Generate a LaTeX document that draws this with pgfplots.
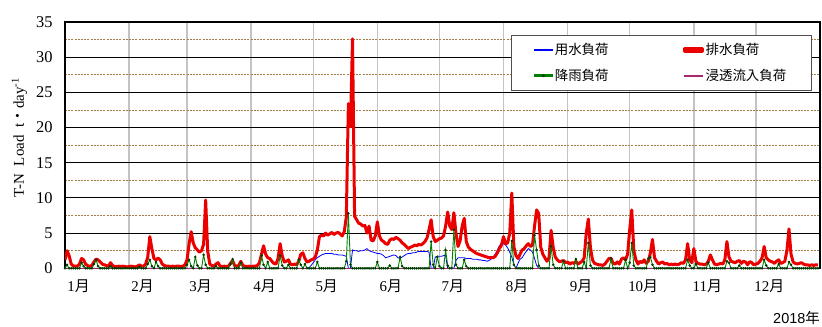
\documentclass[border=0pt]{standalone}
\usepackage{fontspec}
\setmainfont{Liberation Serif}
\newfontfamily\cjk{Noto Sans CJK JP}
\newfontfamily\arial{Liberation Sans}
\usepackage{pgfplots}
\usepackage{pgfplotstable}
\pgfplotsset{compat=1.18}
\definecolor{cred}{RGB}{235,0,0}
\definecolor{cblue}{RGB}{0,0,255}
\definecolor{cgreen}{RGB}{0,128,0}
\definecolor{cgmark}{RGB}{0,60,0}
\definecolor{cpurple}{RGB}{170,40,110}
\definecolor{cbrown}{RGB}{165,125,70}
\definecolor{cgrid}{RGB}{195,195,195}
\definecolor{clegbox}{RGB}{80,80,80}
\newcommand\M[1]{#1{\cjk 月}}

\pgfplotstableread[row sep=\\]{
d r g\\
0 1.2 0\\ 1 2.5 0.5\\ 2 1.8 0\\ 3 0.6 0\\ 4 0.35 0\\ 5 0.3 0\\ 6 0.3 0\\ 7 0.6 0\\ 8 1.4 0.8\\ 9 1.2 0.3\\
10 0.6 0\\ 11 0.35 0\\ 12 0.3 0\\ 13 0.4 0\\ 14 0.9 0.6\\ 15 1.3 1.2\\ 16 1.2 0.3\\ 17 0.9 0\\ 18 0.6 0\\ 19 0.5 0\\
20 0.4 0\\ 21 0.3 0\\ 22 0.8 0.3\\ 23 0.4 0\\ 24 0.25 0\\ 25 0.25 0\\ 26 0.3 0\\ 27 0.25 0\\ 28 0.3 0\\ 29 0.25 0\\
30 0.2 0\\ 31 0.25 0\\ 32 0.3 0\\ 33 0.25 0\\ 34 0.2 0\\ 35 0.3 0\\ 36 0.5 0.2\\ 37 0.3 0\\ 38 0.3 0\\ 39 0.6 0\\
40 1.6 0.6\\ 41 4.5 1.2\\ 42 2.8 0.3\\ 43 1.4 0\\ 44 1.2 0.9\\ 45 1.45 0.3\\ 46 1.2 0\\ 47 0.6 0\\ 48 0.4 0\\ 49 0.3 0\\
50 0.3 0\\ 51 0.25 0\\ 52 0.3 0\\ 53 0.25 0\\ 54 0.3 0\\ 55 0.3 0\\ 56 0.25 0\\ 57 0.3 0\\ 58 0.5 0\\ 59 1.2 0.5\\
60 3.5 1.2\\ 61 5.2 0.3\\ 62 3.6 0\\ 63 2.9 1.6\\ 64 2.6 0.4\\ 65 2.3 0\\ 66 2.5 0\\ 67 3.4 1.9\\ 68 9.7 0.5\\ 69 2.4 0\\
70 0.6 0\\ 71 0.4 0\\ 72 0.3 0\\ 73 0.6 0.3\\ 74 0.8 0\\ 75 0.3 0\\ 76 0.25 0\\ 77 0.3 0\\ 78 0.25 0\\ 79 0.3 0\\
80 0.7 0.6\\ 81 1.1 1.3\\ 82 0.4 0\\ 83 0.3 0\\ 84 0.4 0\\ 85 1.0 0.8\\ 86 0.4 0\\ 87 0.3 0\\ 88 0.25 0\\ 89 0.3 0\\
90 0.25 0\\ 91 0.3 0\\ 92 0.3 0\\ 93 0.4 0\\ 94 0.8 0\\ 95 2.0 1.8\\ 96 3.2 0.5\\ 97 2.0 0\\ 98 1.5 0.9\\ 99 1.4 0\\
100 1.0 0\\ 101 0.7 0\\ 102 0.6 0\\ 103 1.4 0\\ 104 3.5 1.8\\ 105 1.8 0.4\\ 106 0.9 0\\ 107 1.0 0\\ 108 1.2 0.5\\ 109 0.6 0\\
110 0.5 0\\ 111 0.6 0\\ 112 0.5 0\\ 113 1.0 1.2\\ 114 2.0 0.5\\ 115 2.2 0\\ 116 1.4 0.6\\ 117 0.9 0\\ 118 1.0 0\\ 119 1.2 0\\
120 1.3 0\\ 121 1.6 0\\ 122 2.6 0.9\\ 123 4.5 0\\ 124 4.7 0\\ 125 4.6 0\\ 126 5.0 0\\ 127 4.7 0\\ 128 4.9 0\\ 129 5.1 0\\
130 4.8 0\\ 131 5.0 0\\ 132 5.1 0\\ 133 4.9 0\\ 134 4.6 0\\ 135 5.2 0\\ 136 7.3 1.0\\ 137 23.4 7.8\\ 138 20.1 0.5\\ 139 32.6 0\\
140 7.4 0\\ 141 6.9 0\\ 142 6.4 0\\ 143 6.3 0\\ 144 6.0 0\\ 145 6.1 0\\ 146 5.0 0\\ 147 6.0 0\\ 148 4.0 0\\ 149 3.9 0\\
150 4.6 0\\ 151 6.6 0.9\\ 152 4.6 0\\ 153 4.0 0\\ 154 3.8 0\\ 155 3.5 0\\ 156 3.4 0\\ 157 4.0 0.4\\ 158 4.2 0\\ 159 4.1 0\\
160 4.4 0\\ 161 4.2 0\\ 162 4.0 1.6\\ 163 3.6 0.3\\ 164 3.4 0\\ 165 3.1 0\\ 166 2.8 0\\ 167 3.0 0\\ 168 3.1 0\\ 169 3.3 0\\
170 3.2 0\\ 171 3.4 0\\ 172 3.3 0\\ 173 3.5 0\\ 174 3.8 0\\ 175 4.3 0\\ 176 5.5 0\\ 177 6.9 3.8\\ 178 4.5 0.5\\ 179 3.8 0\\
180 4.0 1.6\\ 181 4.2 0.3\\ 182 4.3 0\\ 183 4.6 0\\ 184 6.0 2.6\\ 185 8.0 0.4\\ 186 6.0 0\\ 187 5.5 0\\ 188 7.9 5.5\\ 189 5.0 0.5\\
190 3.1 0\\ 191 3.9 0\\ 192 6.0 0\\ 193 7.1 1.2\\ 194 3.8 0.3\\ 195 3.0 0\\ 196 2.7 0\\ 197 2.5 0\\ 198 2.3 0\\ 199 2.1 0\\
200 2.0 0\\ 201 1.9 0\\ 202 1.8 0\\ 203 1.7 0\\ 204 1.6 0\\ 205 1.5 0\\ 206 1.5 0\\ 207 1.5 0\\ 208 1.7 0\\ 209 2.2 0\\
210 2.8 0\\ 211 3.3 0\\ 212 4.5 0\\ 213 3.5 0\\ 214 3.6 0\\ 215 5.0 0\\ 216 10.7 3.9\\ 217 3.1 0.5\\ 218 1.8 0\\ 219 1.4 0\\
220 2.0 0\\ 221 2.6 0\\ 222 2.8 0\\ 223 3.2 0\\ 224 3.5 0\\ 225 3.1 0\\ 226 3.3 0\\ 227 6.0 4.7\\ 228 8.3 2.6\\ 229 7.8 0.4\\
230 3.0 0\\ 231 2.0 0\\ 232 1.5 0\\ 233 1.0 0\\ 234 1.5 0\\ 235 5.4 3.1\\ 236 3.0 0.5\\ 237 1.6 0\\ 238 1.2 0\\ 239 0.95 0\\
240 1.0 0\\ 241 1.1 1.0\\ 242 0.8 0\\ 243 0.9 0\\ 244 0.6 0\\ 245 0.8 0\\ 246 0.7 0\\ 247 1.0 1.3\\ 248 0.6 0\\ 249 0.8 0\\
250 1.0 0\\ 251 1.5 0.9\\ 252 5.0 0\\ 253 7.0 3.6\\ 254 3.0 0.4\\ 255 1.2 0\\ 256 0.7 0\\ 257 0.6 0\\ 258 0.5 0\\ 259 0.5 0\\
260 0.4 0\\ 261 0.6 0\\ 262 1.0 0\\ 263 1.4 0\\ 264 1.4 1.4\\ 265 0.7 0\\ 266 0.6 0\\ 267 0.9 0\\ 268 0.6 0\\ 269 1.3 0\\
270 1.5 0\\ 271 1.2 1.2\\ 272 2.0 0\\ 273 5.5 0.8\\ 274 8.3 3.6\\ 275 2.5 0.4\\ 276 1.2 0\\ 277 0.6 0\\ 278 1.0 0\\ 279 0.8 0\\
280 1.2 0\\ 281 0.7 0\\ 282 1.0 1.4\\ 283 2.2 1.6\\ 284 4.1 0.5\\ 285 1.5 0\\ 286 1.0 0\\ 287 0.6 0\\ 288 0.8 0\\ 289 0.9 0\\
290 0.6 0\\ 291 0.7 0\\ 292 0.5 0\\ 293 0.6 0\\ 294 0.5 0\\ 295 0.6 0\\ 296 0.5 0\\ 297 0.6 0\\ 298 0.8 0\\ 299 0.7 0\\
300 1.2 0\\ 301 3.5 1.2\\ 302 1.2 0.4\\ 303 0.8 0\\ 304 2.8 0\\ 305 1.0 0.6\\ 306 0.7 0\\ 307 0.6 0\\ 308 0.6 0\\ 309 0.5 0\\
310 0.6 0\\ 311 1.0 0.8\\ 312 1.9 0\\ 313 1.2 0\\ 314 0.6 0\\ 315 0.5 0\\ 316 0.6 0\\ 317 0.7 0\\ 318 0.6 0\\ 319 1.2 0\\
320 3.8 1.0\\ 321 1.6 0.8\\ 322 1.0 0\\ 323 0.9 0\\ 324 0.8 0\\ 325 1.0 0\\ 326 1.1 0.4\\ 327 0.7 0\\ 328 1.0 0\\ 329 0.9 0\\
330 0.5 0\\ 331 0.95 0\\ 332 0.8 0\\ 333 0.5 0\\ 334 0.6 0\\ 335 0.7 0\\ 336 1.0 0\\ 337 1.5 0\\ 338 3.1 1.2\\ 339 1.5 0.4\\
340 1.2 0\\ 341 1.0 0\\ 342 0.9 0\\ 343 0.7 0\\ 344 1.0 0\\ 345 1.2 0.6\\ 346 0.7 0\\ 347 0.8 0\\ 348 1.0 0\\ 349 2.5 0\\
350 5.6 0.9\\ 351 2.0 0.5\\ 352 0.9 0\\ 353 0.7 0\\ 354 0.6 0\\ 355 0.7 0\\ 356 0.8 0\\ 357 0.6 0\\ 358 0.5 0\\ 359 0.5 0\\
360 0.4 0\\ 361 0.5 0\\ 362 0.4 0\\ 363 0.5 0\\ 364 0.5 0\\
}\tblrg

\begin{document}
\begin{tikzpicture}
\begin{axis}[
  at={(0,0)}, anchor=south west,
  scale only axis, width=755bp, height=246.3bp,
  xmin=0, xmax=365, ymin=0, ymax=35,
  xtick={0,31,59,90,120,151,181,212,243,273,304,334},
  xticklabels={\M{1},\M{2},\M{3},\M{4},\M{5},\M{6},\M{7},\M{8},\M{9},\M{10},\M{11},\M{12}},
  xticklabel style={xshift=13.5bp, yshift=-8bp, font=\fontsize{15}{17}\selectfont},
  ytick={0,5,...,35},
  minor ytick={2.5,7.5,...,32.5},
  yticklabel style={xshift=-9bp, font=\fontsize{16.5}{18}\selectfont},
  /pgf/number format/assume math mode=true,
  major tick length=0pt, minor tick length=0pt,
  xmajorgrids, ymajorgrids, yminorgrids,
  major x grid style={draw=cgrid, line width=1.4bp},
  major y grid style={draw=black, line width=1bp},
  minor y grid style={draw=cbrown, line width=0.8bp, dash pattern=on 2bp off 1.2bp},
  axis line style={black, line width=1.1bp},
  legend columns=2,
  legend cell align=left,
  legend style={at={(0.989,0.947)}, anchor=north east, draw=clegbox, line width=0.8bp,
    fill=white, inner xsep=23bp, inner ysep=6bp, row sep=9bp,
    font=\fontsize{13.5}{15}\cjk,
    /tikz/every even column/.append style={column sep=72bp}},
]
\addplot[cblue, line width=0.8bp,
  legend image code/.code={\fill[cblue] (0bp,-0.7bp) rectangle (18bp,0.7bp);}] coordinates {
(0,0) (117,0) (118,0.1) (119,0.4) (120,0.8) (121,1.2) (122,1.5) (123,1.7) (124,1.9) (125,2.0)
(126,2.1) (127,2.1) (128,2.1) (129,2.1) (130,2.0) (131,2.0) (132,1.9) (133,1.9) (134,1.9) (135,1.8)
(136,1.7) (137,0) (138,0) (139,2.6) (140,2.5) (141,2.5) (142,2.4) (143,2.5) (144,2.5) (145,2.6)
(146,2.8) (147,2.5) (148,2.4) (149,2.3) (150,2.2) (151,2.1) (152,2.1) (153,2.0) (154,1.8) (155,1.5)
(156,1.6) (157,1.7) (158,1.8) (159,1.9) (160,1.8) (161,1.5) (162,1.4) (163,1.6) (164,1.8) (165,2.0)
(166,2.1) (167,2.1) (168,2.2) (169,2.2) (170,2.3) (171,2.4) (172,2.4) (173,2.4) (174,2.4) (175,2.4)
(176,2.3) (177,0) (178,0) (179,1.6) (180,1.7) (181,1.7) (182,1.7) (183,1.8) (184,1.8) (185,0)
(186,0) (187,0) (188,0) (189,1.1) (190,1.5) (191,1.5) (192,1.5) (193,1.5) (194,1.4) (195,1.4)
(196,1.4) (197,1.3) (198,1.3) (199,1.3) (200,1.2) (201,1.2) (202,1.1) (203,1.1) (204,1.0) (205,1.1)
(206,1.3) (207,1.6) (208,2.0) (209,2.6) (210,3.2) (211,3.6) (212,3.5) (213,3.3) (214,2.9) (215,2.3)
(216,1.6) (217,0.5) (218,0) (219,0.7) (220,1.3) (221,1.5) (222,2.0) (223,2.4) (224,2.8) (225,2.6)
(226,2.3) (227,1.4) (228,0.4) (229,0) (364,0)
};
\addlegendentry{用水負荷}
\addplot[cred, line width=3bp, line join=round,
  legend image code/.code={\fill[cred] (0bp,-1.6bp) rectangle (18bp,1.6bp);}] table[x=d, y=r] {\tblrg};
\addlegendentry{排水負荷}
\addplot[cgreen, line width=0.9bp, mark=*, mark size=0.75bp,
  mark options={fill=cgmark, draw=cgmark},
  legend image code/.code={\fill[cgreen] (0bp,-0.7bp) rectangle (18bp,0.7bp);
    \fill[cgmark] (9bp,0bp) circle[radius=1.1bp];}] table[x=d, y=g] {\tblrg};
\addlegendentry{降雨負荷}
\addplot[cpurple, line width=0.8bp,
  legend image code/.code={\fill[cpurple] (0bp,-0.7bp) rectangle (18bp,0.7bp);}] coordinates {
(0,0.05) (31,0.05) (59,0.05) (90,0.05) (120,0.05) (151,0.05) (181,0.05) (212,0.05) (243,0.05) (273,0.05) (304,0.05) (334,0.05) (364,0.05)
};
\addlegendentry{浸透流入負荷}
\end{axis}
\node[rotate=90, font=\fontsize{15}{17}\selectfont] at (-45.5bp,130.8bp)
  {T-N\ \ Load\ \ t{\cjk ・}day\textsuperscript{-1}};
\node[anchor=east, inner sep=0pt, font=\fontsize{14.5}{16}\arial] at (755bp,-49.7bp) {2018{\cjk 年}};
\pgfresetboundingbox
\path[use as bounding box] (-65bp,-58.7bp) rectangle (757bp,268.3bp);
\end{tikzpicture}
\end{document}
